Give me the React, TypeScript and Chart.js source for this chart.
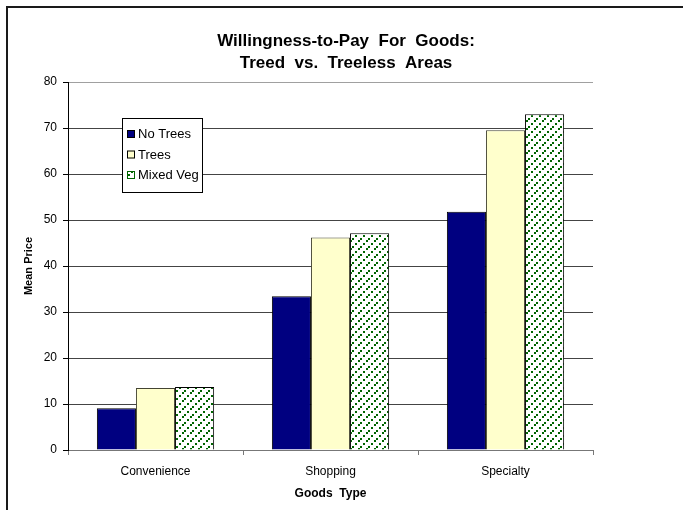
import React, { useEffect, useRef } from "react";
import { Chart, registerables } from "chart.js";

Chart.register(...registerables);

const categories = ["Convenience", "Shopping", "Specialty"];
const seriesNames = ["No Trees", "Trees", "Mixed Veg"];
const noTrees = [9.1, 33.4, 51.8];
const trees = [13.5, 46.2, 69.5];
const mixedVeg = [13.7, 47.1, 73.0];
const titleLines = ["Willingness-to-Pay  For  Goods:", "Treed  vs.  Treeless  Areas"];
const yAxisTitle = "Mean Price";
const xAxisTitle = "Goods  Type";
const yMin = 0;
const yMax = 80;
const yStep = 10;

const FONT = "'Liberation Sans', Arial, sans-serif";

function makePattern(): CanvasPattern | string {
  const c = document.createElement("canvas");
  c.width = 8;
  c.height = 8;
  const g = c.getContext("2d");
  if (!g) return "#ffffff";
  g.fillStyle = "#ffffff";
  g.fillRect(0, 0, 8, 8);
  g.fillStyle = "#006400";
  g.fillRect(0, 6, 2, 2);
  g.fillRect(3, 3, 2, 2);
  g.fillRect(6, 0, 2, 2);
  const p = g.createPattern(c, "repeat");
  return p || "#ffffff";
}

export default function App() {
  const ref = useRef<HTMLCanvasElement | null>(null);

  useEffect(() => {
    const canvas = ref.current;
    if (!canvas) return;
    const pattern = makePattern();

    const framePlugin = {
      id: "frameAndTitle",
      beforeDraw(chart: any) {
        const { ctx, width, height } = chart;
        ctx.save();
        ctx.fillStyle = "#ffffff";
        ctx.fillRect(0, 0, width, height);
        ctx.fillStyle = "#1a1a1a";
        ctx.fillRect(6, 6, width - 6, 2);
        ctx.fillRect(6, 6, 2, height - 6);
        ctx.fillStyle = "#000";
        ctx.font = `bold 17px ${FONT}`;
        ctx.textAlign = "center";
        ctx.textBaseline = "middle";
        titleLines.forEach((t, i) => ctx.fillText(t, 346, 41 + i * 22));
        ctx.restore();
      },
    };

    const legendPlugin = {
      id: "boxLegend",
      afterDraw(chart: any) {
        const { ctx, chartArea } = chart;
        const x = chartArea.left + 54;
        const y = chartArea.top + 36;
        const w = 80;
        const h = 74;
        ctx.save();
        ctx.fillStyle = "#ffffff";
        ctx.fillRect(x, y, w, h);
        ctx.strokeStyle = "#000";
        ctx.lineWidth = 1;
        ctx.strokeRect(x + 0.5, y + 0.5, w, h);
        ctx.font = `13px ${FONT}`;
        ctx.textBaseline = "middle";
        ctx.textAlign = "left";
        chart.data.datasets.forEach((ds: any, i: number) => {
          const cy = y + 16 + i * 20.5;
          ctx.fillStyle = ds.backgroundColor;
          ctx.fillRect(x + 5, cy - 4, 8, 8);
          ctx.strokeStyle = ds.legendBorder;
          ctx.strokeRect(x + 5.5, cy - 3.5, 7, 7);
          ctx.fillStyle = "#000";
          ctx.fillText(ds.label, x + 16, cy + 0.5);
        });
        ctx.restore();
      },
    };

    const chart = new Chart(canvas, {
      type: "bar",
      data: {
        labels: categories,
        datasets: [
          {
            label: seriesNames[0],
            data: noTrees,
            backgroundColor: "#000080",
            borderColor: "#000000",
            borderWidth: 1,
            legendBorder: "#000000",
          } as any,
          {
            label: seriesNames[1],
            data: trees,
            backgroundColor: "#ffffcc",
            borderColor: "#444433",
            borderWidth: 1,
            legendBorder: "#000000",
          } as any,
          {
            label: seriesNames[2],
            data: mixedVeg,
            backgroundColor: pattern,
            borderColor: "#000000",
            borderWidth: 1,
            legendBorder: "#006400",
          } as any,
        ],
      },
      options: {
        responsive: false,
        animation: false,
        devicePixelRatio: 1,
        layout: { padding: { top: 82, right: 90, left: 0, bottom: 0 } },
        datasets: {
          bar: { categoryPercentage: 0.67, barPercentage: 1.0 },
        },
        plugins: {
          legend: { display: false },
          title: { display: false },
          tooltip: { enabled: false },
        },
        scales: {
          x: {
            afterFit: (s: any) => {
              s.height = 60;
            },
            grid: {
              display: true,
              drawOnChartArea: false,
              offset: true,
              tickLength: 5,
              color: "#777",
            },
            border: { color: "#777", width: 1 },
            ticks: {
              color: "#000",
              padding: 9,
              font: { family: FONT, size: 12 },
            },
            title: {
              display: true,
              text: xAxisTitle,
              color: "#000",
              font: { family: FONT, size: 12, weight: "bold" },
              padding: { top: 0, bottom: 9 },
            },
          },
          y: {
            min: yMin,
            max: yMax,
            afterFit: (s: any) => {
              s.width = 68;
            },
            grid: {
              color: (c: any) => (c.tick && c.tick.value === yMax ? "#a0a0a0" : "#444"),
              tickColor: "#000",
              tickLength: 5,
            },
            border: { color: "#000", width: 1 },
            ticks: {
              stepSize: yStep,
              color: "#000",
              padding: 6,
              font: { family: FONT, size: 12 },
            },
            title: {
              display: true,
              text: yAxisTitle,
              color: "#000",
              font: { family: FONT, size: 11, weight: "bold" },
              padding: { top: 22, bottom: 0 },
            },
          },
        },
      },
      plugins: [framePlugin, legendPlugin],
    } as any);

    return () => chart.destroy();
  }, []);

  return (
    <div style={{ position: "absolute", left: 0, top: 0, width: 683, height: 510 }}>
      <canvas ref={ref} width={683} height={510} style={{ display: "block" }} />
    </div>
  );
}
